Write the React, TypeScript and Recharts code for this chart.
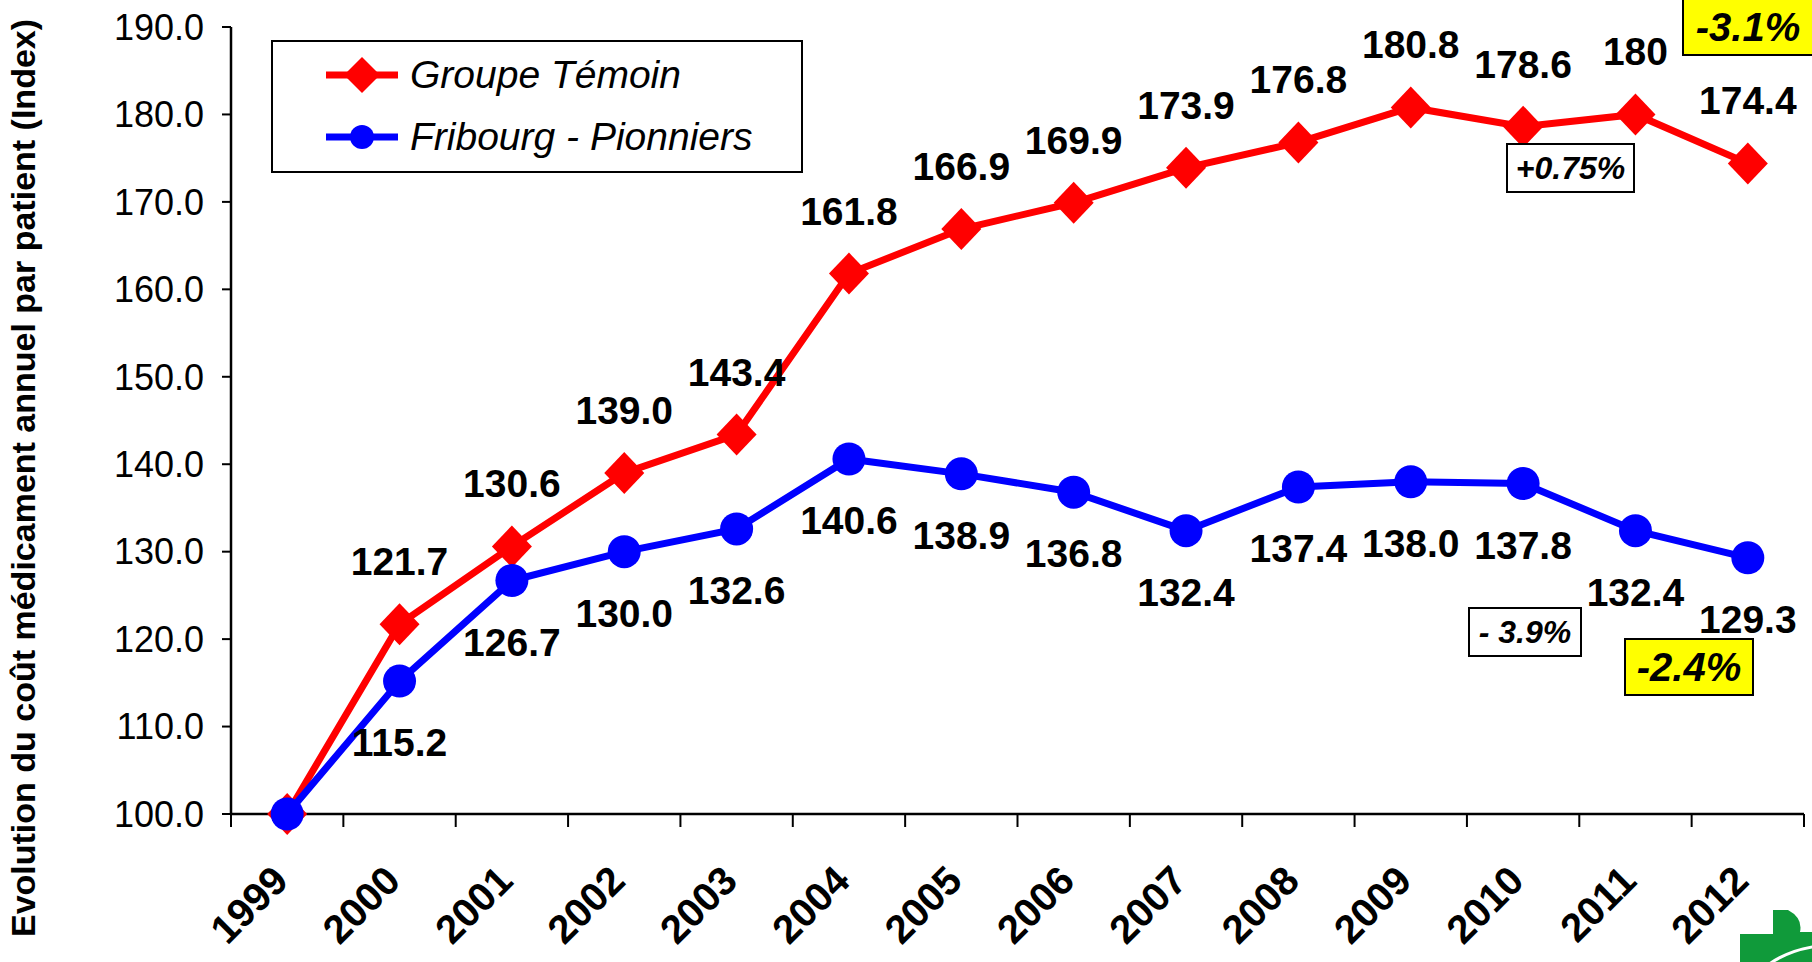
import React from "react";
import { LineChart, Line, XAxis, YAxis, Legend, LabelList } from "recharts";

const years = ["1999", "2000", "2001", "2002", "2003", "2004", "2005", "2006", "2007", "2008", "2009", "2010", "2011", "2012"];
const groupeTemoin = [100.0, 121.7, 130.6, 139.0, 143.4, 161.8, 166.9, 169.9, 173.9, 176.8, 180.8, 178.6, 180.0, 174.4];
const groupeTemoinLabels = ["", "121.7", "130.6", "139.0", "143.4", "161.8", "166.9", "169.9", "173.9", "176.8", "180.8", "178.6", "180", "174.4"];
const fribourg = [100.0, 115.2, 126.7, 130.0, 132.6, 140.6, 138.9, 136.8, 132.4, 137.4, 138.0, 137.8, 132.4, 129.3];
const fribourgLabels = ["", "115.2", "126.7", "130.0", "132.6", "140.6", "138.9", "136.8", "132.4", "137.4", "138.0", "137.8", "132.4", "129.3"];
const yTicks = [100, 110, 120, 130, 140, 150, 160, 170, 180, 190];
const xTicks = [0, 1, 2, 3, 4, 5, 6, 7, 8, 9, 10, 11, 12, 13, 14];

const W = 1812;
const H = 962;
const FONT = "'Liberation Sans', Arial, sans-serif";
const PLOT_LEFT = 231;
const PLOT_RIGHT = 8;
const HALF_BAND = (W - PLOT_LEFT - PLOT_RIGHT) / years.length / 2;

const data = years.map((year, i) => ({
  pos: i + 0.5,
  year,
  temoin: groupeTemoin[i],
  fribourg: fribourg[i],
}));

const Diamond = (props: any) => {
  const { cx, cy } = props;
  if (cx == null || cy == null) return null;
  return (
    <polygon
      points={`${cx},${cy - 21} ${cx + 20},${cy} ${cx},${cy + 21} ${cx - 20},${cy}`}
      fill="#FF0000"
    />
  );
};

const XTick = (props: any) => {
  const { x, y, payload } = props;
  const i = payload.value;
  if (i >= years.length) return null;
  const tx = x + HALF_BAND + 3;
  const ty = y + 54;
  return (
    <text
      x={tx}
      y={ty}
      transform={`rotate(-45, ${tx}, ${ty})`}
      textAnchor="end"
      fontFamily={FONT}
      fontWeight="bold"
      fontSize={40}
      fill="#000"
    >
      {years[i]}
    </text>
  );
};

const yTitle = () => (
  <text
    x={35}
    y={478}
    transform="rotate(-90, 35, 478)"
    textAnchor="middle"
    fontFamily={FONT}
    fontWeight="bold"
    fontSize={34}
    fill="#000"
  >
    Evolution du coût médicament annuel par patient (Index)
  </text>
);

const topLabel = (p: any) => {
  const { x, y, index } = p;
  const t = groupeTemoinLabels[index];
  if (!t) return null;
  return (
    <text x={x} y={y - 63} dy="0.36em" textAnchor="middle" fontFamily={FONT} fontWeight="bold" fontSize={39} fill="#000">
      {t}
    </text>
  );
};

const bottomLabel = (p: any) => {
  const { x, y, index } = p;
  const t = fribourgLabels[index];
  if (!t) return null;
  return (
    <text x={x} y={y + 61} dy="0.36em" textAnchor="middle" fontFamily={FONT} fontWeight="bold" fontSize={39} fill="#000">
      {t}
    </text>
  );
};

const renderLegend = () => (
  <div
    style={{
      width: 528,
      height: 129,
      border: "2px solid #000",
      background: "#fff",
      fontFamily: FONT,
      fontStyle: "italic",
      fontSize: 39,
      position: "relative",
    }}
  >
    <svg width={80} height={129} style={{ position: "absolute", left: 53, top: 0 }}>
      <line x1={0} y1={33} x2={72} y2={33} stroke="#FF0000" strokeWidth={7} />
      <polygon points="36,15 54,33 36,51 18,33" fill="#FF0000" />
      <line x1={0} y1={95} x2={72} y2={95} stroke="#0000FF" strokeWidth={7} />
      <circle cx={36} cy={95} r={12} fill="#0000FF" />
    </svg>
    <div style={{ position: "absolute", left: 137, top: 33, transform: "translateY(-50%)", whiteSpace: "nowrap" }}>
      Groupe Témoin
    </div>
    <div style={{ position: "absolute", left: 137, top: 95, transform: "translateY(-50%)", whiteSpace: "nowrap" }}>
      Fribourg - Pionniers
    </div>
  </div>
);

const boxStyle = (left: number, top: number, width: number, height: number, bg: string, size: number): React.CSSProperties => ({
  position: "absolute",
  left,
  top,
  width,
  height,
  boxSizing: "border-box",
  border: "2px solid #000",
  background: bg,
  display: "flex",
  alignItems: "center",
  justifyContent: "center",
  fontFamily: FONT,
  fontWeight: "bold",
  fontStyle: "italic",
  fontSize: size,
  color: "#000",
  whiteSpace: "pre",
});

export default function App() {
  return (
    <div style={{ position: "absolute", left: 0, top: 0, width: W, height: H, background: "#fff", overflow: "hidden" }}>
      <LineChart width={W} height={H} data={data} margin={{ top: 27, right: PLOT_RIGHT, bottom: 0, left: 0 }}>
        <XAxis
          dataKey="pos"
          type="number"
          domain={[0, 14]}
          ticks={xTicks}
          interval={0}
          height={148}
          axisLine={{ stroke: "#000", strokeWidth: 2.5 }}
          tickLine={{ stroke: "#000", strokeWidth: 2 }}
          tickSize={13}
          tickMargin={2}
          tick={<XTick />}
        />
        <YAxis
          domain={[100, 190]}
          ticks={yTicks}
          interval={0}
          width={PLOT_LEFT}
          axisLine={{ stroke: "#000", strokeWidth: 2.5 }}
          tickLine={{ stroke: "#000", strokeWidth: 2 }}
          tickSize={9}
          tickMargin={18}
          tickFormatter={(v: number) => v.toFixed(1)}
          tick={{ fill: "#000", fontSize: 36, fontFamily: FONT }}
          label={yTitle}
        />
        <Legend
          layout="vertical"
          align="center"
          verticalAlign="middle"
          content={renderLegend}
          wrapperStyle={{ position: "absolute", left: 271, top: 40, width: 532, height: 133 }}
        />
        <Line
          type="linear"
          dataKey="temoin"
          name="Groupe Témoin"
          stroke="#FF0000"
          strokeWidth={7}
          dot={<Diamond />}
          activeDot={false}
          isAnimationActive={false}
        >
          <LabelList dataKey="temoin" content={topLabel} />
        </Line>
        <Line
          type="linear"
          dataKey="fribourg"
          name="Fribourg - Pionniers"
          stroke="#0000FF"
          strokeWidth={7}
          dot={{ r: 16.5, fill: "#0000FF", stroke: "none" }}
          activeDot={false}
          isAnimationActive={false}
        >
          <LabelList dataKey="fribourg" content={bottomLabel} />
        </Line>
      </LineChart>

      <div style={boxStyle(1506, 143, 129, 50, "#fff", 32)}>+0.75%</div>
      <div style={boxStyle(1682, -2, 132, 58, "#FFFF00", 40)}>-3.1%</div>
      <div style={boxStyle(1468, 607, 114, 50, "#fff", 32)}>- 3.9%</div>
      <div style={boxStyle(1624, 638, 130, 58, "#FFFF00", 40)}>-2.4%</div>

      <svg width={80} height={55} style={{ position: "absolute", left: 1738, top: 910 }}>
        <path d="M35,0 L50,0 Q65,8 62,22 L80,22 L80,55 L2,55 L2,24 L35,24 Z" fill="#109A3A" />
        <path d="M30,55 Q50,40 80,36" stroke="#fff" strokeWidth={3} fill="none" />
      </svg>
    </div>
  );
}
